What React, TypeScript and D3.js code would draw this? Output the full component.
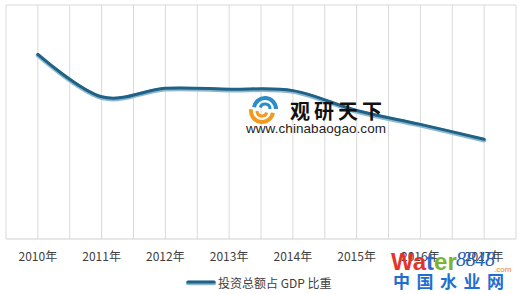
import React from "react";
import * as d3 from "d3";

const years = ["2010年", "2011年", "2012年", "2013年", "2014年", "2015年", "2016年", "2017年"];
const ratio = [78.9, 60.8, 64.4, 64.0, 63.4, 54.9, 49.0, 42.6];
const seriesName = "投资总额占 GDP 比重";

const W = 520, H = 294;
const L = 6, R = 516, T = 5, B = 239;

export default function App() {
  const x = d3.scaleBand<string>().domain(years).range([L, R]).paddingInner(0).paddingOuter(0);
  const bw = x.bandwidth();
  const cx = (d: string) => (x(d) as number) + bw / 2;
  const y = d3.scaleLinear().domain([0, 100]).range([B, T]);

  const pts: [number, number][] = years.map((d, i) => [cx(d), y(ratio[i])]);
  const line = d3.line().curve(d3.curveCardinal.tension(0));
  const path = line(pts) || "";

  const grid: number[] = [];
  years.forEach((d) => {
    grid.push(x(d) as number);
    grid.push(cx(d));
  });
  grid.push(R);

  const font = "'Noto Sans CJK SC', 'Noto Sans', sans-serif";

  const arc = d3.arc();
  const icon = (r0: number, r1: number, a0: number, a1: number) =>
    arc({ innerRadius: r0, outerRadius: r1, startAngle: a0, endAngle: a1 }) || "";

  return (
    <svg width={W} height={H} style={{ position: "fixed", left: 0, top: 0, background: "#fff" }}>
      {grid.map((gx, i) => (
        <line key={i} x1={gx} x2={gx} y1={T} y2={B} stroke="#d9d9d9" strokeWidth={1} />
      ))}
      <line x1={L} x2={R} y1={T} y2={T} stroke="#d9d9d9" />
      <line x1={L} x2={R} y1={B} y2={B} stroke="#d0d0d0" />

      {years.map((d) => (
        <text key={d} x={cx(d)} y={261} textAnchor="middle" fontFamily={font} fontSize={12} fill="#404040">
          {d}
        </text>
      ))}

      <path d={path} fill="none" stroke="#8fb8d0" strokeWidth={4.5} strokeLinecap="round" transform="translate(0,1)" />
      <path d={path} fill="none" stroke="#1f6285" strokeWidth={3} strokeLinecap="round" />

      {/* legend */}
      <line x1={188} x2={214} y1={283} y2={283} stroke="#8fb8d0" strokeWidth={4.5} strokeLinecap="round" />
      <line x1={188} x2={214} y1={282} y2={282} stroke="#1f6285" strokeWidth={3} strokeLinecap="round" />
      <text x={218} y={288} fontFamily={font} fontSize={12} fill="#404040">
        {seriesName}
      </text>

      {/* watermark: chinabaogao */}
      <g transform="translate(262,111)">
        <path d={icon(9, 13, Math.PI * 0.55, Math.PI * 1.55)} fill="#f39a1e" />
        <path d={icon(3.5, 6.5, Math.PI * 0.6, Math.PI * 1.5)} fill="#f39a1e" />
        <path d={icon(9, 13, -Math.PI * 0.45, Math.PI * 0.5)} fill="#2a8cc8" transform="translate(3,-2)" />
        <path d={icon(3.5, 6.5, -Math.PI * 0.4, Math.PI * 0.5)} fill="#2a8cc8" transform="translate(3,-2)" />
      </g>
      <text x={290} y={119} fontFamily={font} fontWeight="bold" fontSize={20} letterSpacing={4} fill="#111">
        观研天下
      </text>
      <text x={246} y={133} fontFamily="'Liberation Sans', Arial, sans-serif" fontSize={13.5} textLength={140} fill="#222">
        www.chinabaogao.com
      </text>

      {/* watermark: water8848 */}
      <text x={391} y={270} fontFamily="'Liberation Sans', Arial, sans-serif" fontWeight="bold" fontSize={24}>
        <tspan fill="#e5332a">Wa</tspan>
        <tspan fill="#2d6fc2">t</tspan>
        <tspan fill="#7cb52c">er</tspan>
      </text>
      <text x={456} y={266} fontFamily="'Liberation Serif', serif" fontStyle="italic" fontSize={20} fill="#2160c4" textLength={39}>
        8848
      </text>
      <text x={494} y={272} fontFamily="'Liberation Sans', Arial, sans-serif" fontSize={8} fill="#f08020">
        .com
      </text>
      <text x={393} y={288} fontFamily={font} fontWeight="bold" fontSize={17} letterSpacing={6.5} fill="#1f6fd0">
        中国水业网
      </text>
    </svg>
  );
}
